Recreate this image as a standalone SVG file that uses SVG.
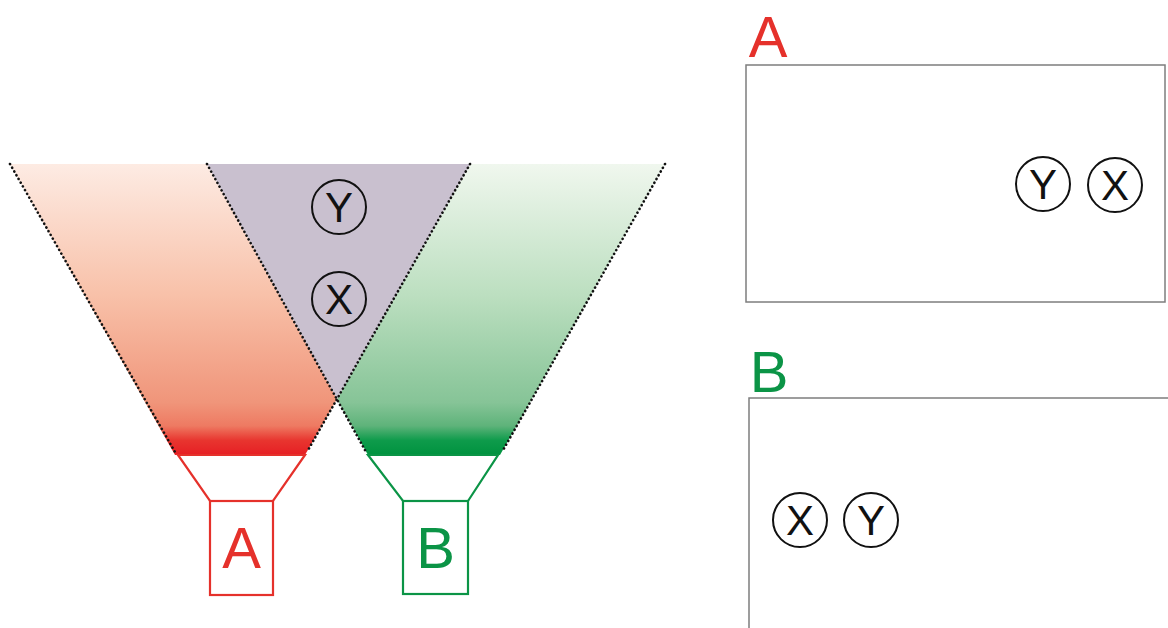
<svg xmlns="http://www.w3.org/2000/svg" width="1168" height="628" viewBox="0 0 1168 628">
<style>
.dot{fill:none;stroke:#111;stroke-width:2.6;stroke-dasharray:0.1 4.2;stroke-linecap:round}
.ring{fill:none;stroke:#111;stroke-width:2}
.sym{font-family:"Liberation Sans",Arial,sans-serif;font-size:42px;fill:#111;text-anchor:middle}
.big{font-family:"Liberation Sans",Arial,sans-serif;font-size:58px;text-anchor:middle}
.red{fill:#e5312b}
.grn{fill:#0b9446}
.panel{fill:#fff;stroke:#7e7e7e;stroke-width:1.5}
</style>
<defs>
<linearGradient id="gRed" gradientUnits="userSpaceOnUse" x1="0" y1="164" x2="0" y2="455">
<stop offset="0" stop-color="#fdebe3"/>
<stop offset="0.45" stop-color="#f8c1a9"/>
<stop offset="0.82" stop-color="#f0957a"/>
<stop offset="0.9" stop-color="#ee7a62"/>
<stop offset="0.95" stop-color="#e8352f"/>
<stop offset="1" stop-color="#e61f24"/>
</linearGradient>
<linearGradient id="gGrn" gradientUnits="userSpaceOnUse" x1="0" y1="164" x2="0" y2="455">
<stop offset="0" stop-color="#f0f7ee"/>
<stop offset="0.45" stop-color="#bcdfc0"/>
<stop offset="0.82" stop-color="#86c497"/>
<stop offset="0.9" stop-color="#5eb37a"/>
<stop offset="0.95" stop-color="#0e9b4b"/>
<stop offset="1" stop-color="#00923f"/>
</linearGradient>
</defs>
<rect width="1168" height="628" fill="#fff"/>

<g id="beam-A">
<polygon points="10,164 207,164 337,399 305,455 175,455" fill="url(#gRed)"/>
</g>
<g id="beam-B">
<polygon points="470,164 665,164 500,455 368,455 337,399" fill="url(#gGrn)"/>
</g>
<g id="overlap">
<polygon points="207,164 470,164 337,399" fill="#c9c0cf"/>
</g>

<g id="connectors">
<line class="dot" x1="10" y1="164" x2="175" y2="452"/>
<line class="dot" x1="470" y1="164" x2="307" y2="452"/>
<line class="dot" x1="207" y1="164" x2="366" y2="452"/>
<line class="dot" x1="665" y1="164" x2="502" y2="452"/>
</g>

<g id="flashlight-A">
<polygon points="178,455 305,455 273,501 210,501" fill="#fff" stroke="#e5312b" stroke-width="2.2"/>
<rect x="210" y="501" width="63" height="94" fill="#fff" stroke="#e5312b" stroke-width="2.2"/>
<text class="big red" x="241.5" y="568">A</text>
</g>
<g id="flashlight-B">
<polygon points="368,455 498,455 468,501 403,501" fill="#fff" stroke="#0b9446" stroke-width="2.2"/>
<rect x="403" y="501" width="65" height="93" fill="#fff" stroke="#0b9446" stroke-width="2.2"/>
<text class="big grn" x="435.5" y="568">B</text>
</g>

<g id="obj-Y">
<circle class="ring" cx="339" cy="207" r="27"/>
<text class="sym" x="339" y="222">Y</text>
</g>
<g id="obj-X">
<circle class="ring" cx="339" cy="299" r="27"/>
<text class="sym" x="339" y="314">X</text>
</g>

<g id="view-A">
<text class="big red" x="768" y="57">A</text>
<rect class="panel" x="746" y="65" width="419" height="237"/>
<circle class="ring" cx="1043" cy="184" r="27"/>
<text class="sym" x="1043" y="199">Y</text>
<circle class="ring" cx="1115" cy="185" r="27"/>
<text class="sym" x="1115" y="200">X</text>
</g>

<g id="view-B">
<text class="big grn" x="769" y="392">B</text>
<rect class="panel" x="749" y="398" width="430" height="240"/>
<circle class="ring" cx="800" cy="520" r="27"/>
<text class="sym" x="800" y="535">X</text>
<circle class="ring" cx="871" cy="520" r="27"/>
<text class="sym" x="871" y="535">Y</text>
</g>
</svg>
